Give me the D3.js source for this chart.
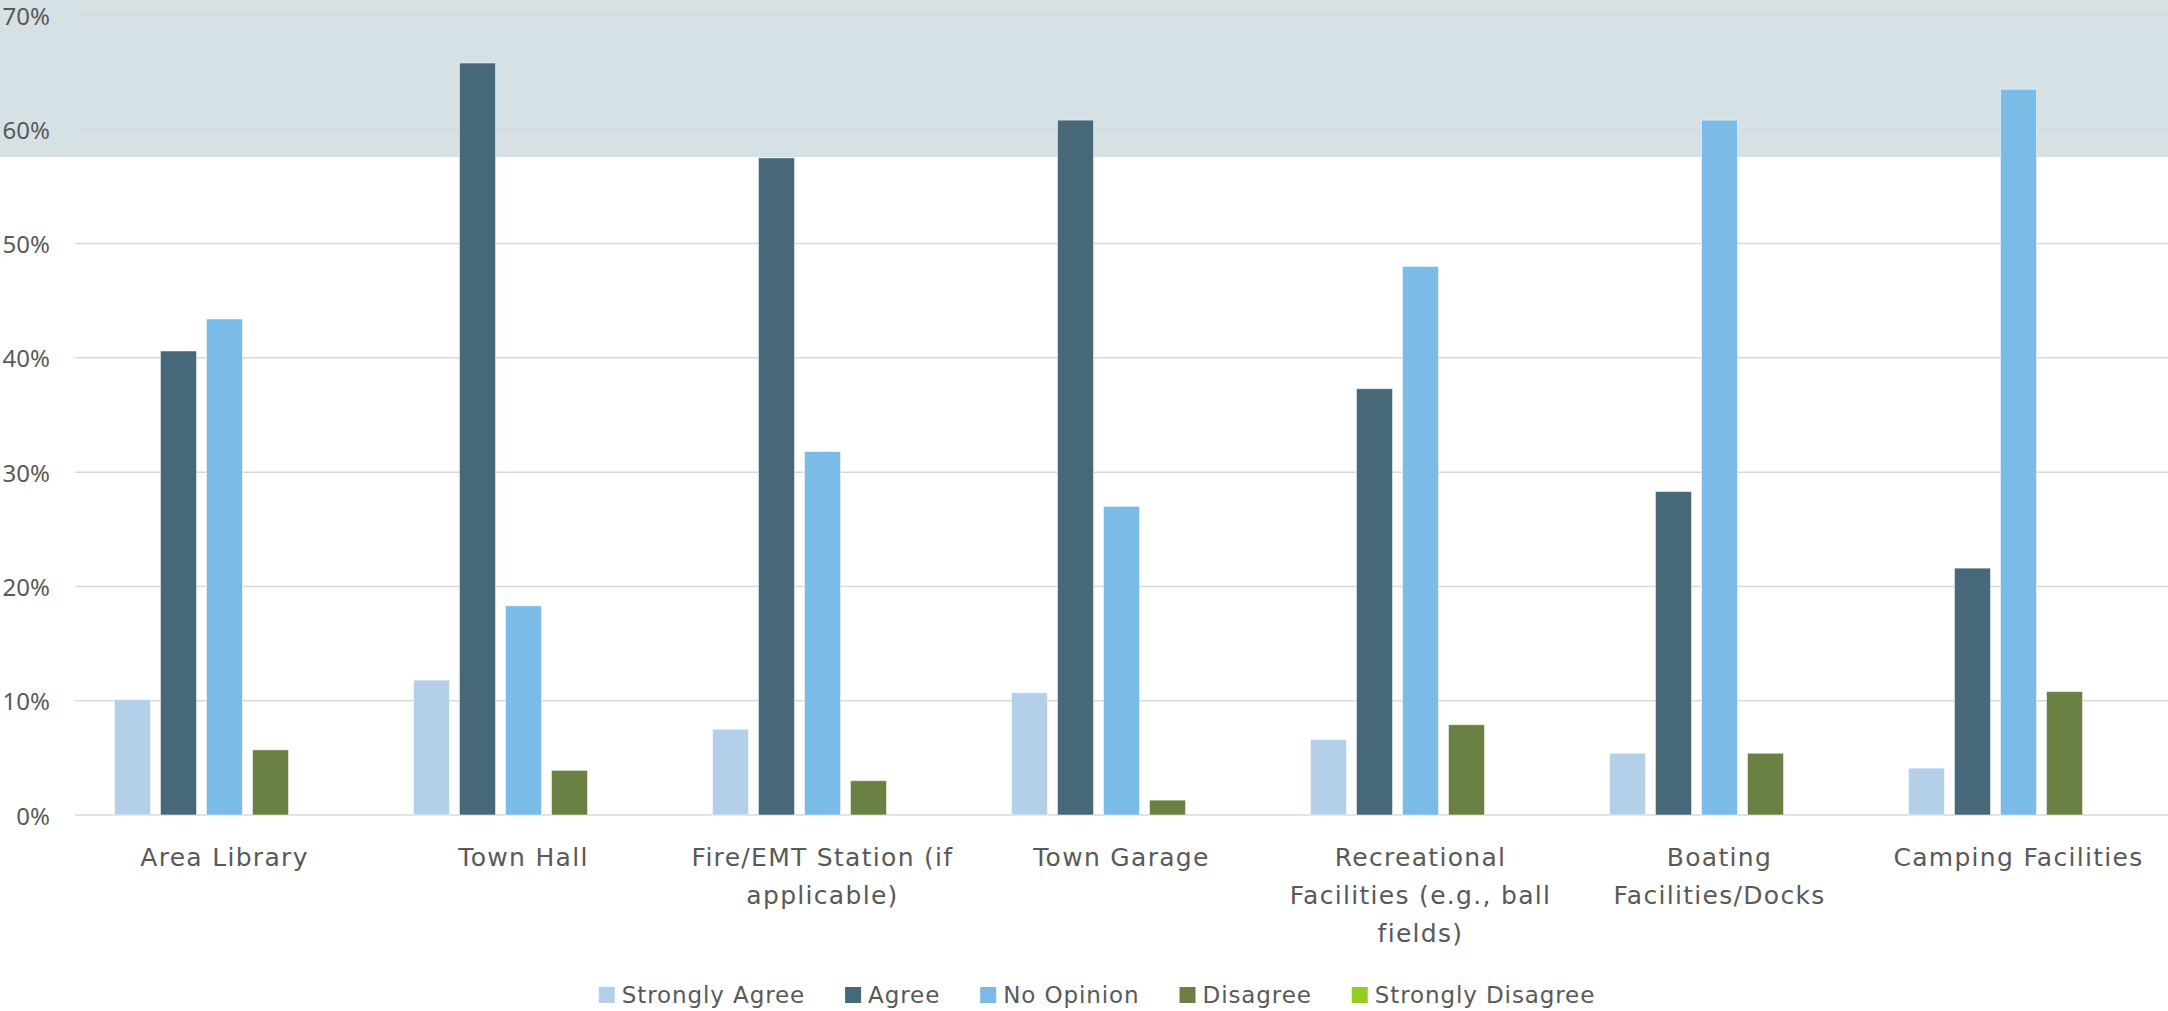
<!DOCTYPE html>
<html>
<head>
<meta charset="utf-8">
<script src="https://cdn.jsdelivr.net/npm/d3@7"></script>
<style>
  html, body { margin: 0; padding: 0; background: #ffffff; }
  svg { display: block; }
  text { font-family: "DejaVu Sans", sans-serif; fill: #595959; }
</style>
</head>
<body>
<svg id="chart" width="2168" height="1011"></svg>
<script>
// ---- data ----
const categories = ["Area Library", "Town Hall", "Fire/EMT Station (if applicable)", "Town Garage",
  "Recreational Facilities (e.g., ball fields)", "Boating Facilities/Docks", "Camping Facilities"];
const categoryLines = [
  ["Area Library"],
  ["Town Hall"],
  ["Fire/EMT Station (if", "applicable)"],
  ["Town Garage"],
  ["Recreational", "Facilities (e.g., ball", "fields)"],
  ["Boating", "Facilities/Docks"],
  ["Camping Facilities"]
];
const seriesNames = ["Strongly Agree", "Agree", "No Opinion", "Disagree", "Strongly Disagree"];
const stronglyAgree    = [10.1, 11.8, 7.5, 10.7, 6.6, 5.4, 4.1];
const agree            = [40.6, 65.8, 57.5, 60.8, 37.3, 28.3, 21.6];
const noOpinion        = [43.4, 18.3, 31.8, 27.0, 48.0, 60.8, 63.5];
const disagree         = [5.7, 3.9, 3.0, 1.3, 7.9, 5.4, 10.8];
const stronglyDisagree = [0, 0, 0, 0, 0, 0, 0];
const seriesValues = [stronglyAgree, agree, noOpinion, disagree, stronglyDisagree];
const yTicks = [0, 10, 20, 30, 40, 50, 60, 70];
const seriesColors = ["#b4d0e8", "#466878", "#7bbbe8", "#6b8043", "#99cc22"];

// ---- layout ----
const W = 2168, H = 1011;
const plotLeft = 75, plotRight = 2168, plotTop = 15, plotBottom = 815;
const svg = d3.select("#chart");

// shaded band at top
svg.append("rect").attr("x", 0).attr("y", 0).attr("width", W).attr("height", 157)
  .attr("fill", "#d6e1e6");

const y = d3.scaleLinear().domain([0, 70]).range([plotBottom, plotTop]);
const x0 = d3.scaleBand().domain(categories).range([plotLeft, plotRight]).paddingInner(0).paddingOuter(0);
const x1 = d3.scaleBand().domain(seriesNames).range([0, x0.bandwidth()])
  .paddingInner(10 / 46).paddingOuter(0.858);

// gridlines
svg.append("g").selectAll("line").data(yTicks).join("line")
  .attr("x1", plotLeft).attr("x2", plotRight)
  .attr("y1", d => y(d)).attr("y2", d => y(d))
  .attr("stroke", "#d9d9d9").attr("stroke-width", 1.5);

// y axis labels
const yAxis = d3.axisLeft(y).tickValues(yTicks).tickFormat(d => d + "%").tickSize(0).tickPadding(0);
const yg = svg.append("g").attr("transform", `translate(50,0)`).call(yAxis);
yg.select(".domain").remove();
yg.selectAll("text")
  .attr("dy", null).attr("y", 9)
  .style("font-size", "24px").style("fill", "#595959")
  .style("font-family", '"Noto Sans", sans-serif');

// bars
const groups = svg.append("g").selectAll("g").data(categories).join("g")
  .attr("transform", d => `translate(${x0(d)},0)`);
groups.selectAll("rect")
  .data((c, ci) => seriesNames.map((s, si) => ({ s, si, v: seriesValues[si][ci] })))
  .join("rect")
  .attr("x", d => x1(d.s))
  .attr("width", x1.bandwidth())
  .attr("y", d => y(d.v))
  .attr("height", d => y(0) - y(d.v))
  .attr("fill", d => seriesColors[d.si])
  .attr("stroke", "#ffffff").attr("stroke-opacity", 0.5).attr("stroke-width", 1)
  .style("display", d => d.v > 0 ? null : "none");

// x axis labels
const xl = svg.append("g").selectAll("text").data(categories).join("text")
  .attr("x", d => x0(d) + x0.bandwidth() / 2)
  .attr("y", 866)
  .attr("text-anchor", "middle")
  .style("font-size", "25px")
  .style("letter-spacing", "1.3px");
xl.selectAll("tspan").data((d, i) => categoryLines[i]).join("tspan")
  .attr("x", function () { return d3.select(this.parentNode).attr("x"); })
  .attr("dy", (d, i) => i === 0 ? 0 : 38)
  .text(d => d);

// legend
const legend = svg.append("g");
const items = legend.selectAll("g").data(seriesNames).join("g");
items.append("rect").attr("width", 16).attr("height", 16).attr("y", 987)
  .attr("fill", (d, i) => seriesColors[i]);
items.append("text").attr("x", 23).attr("y", 1003)
  .style("font-size", "23px").style("letter-spacing", "0.9px").text(d => d);
const widths = [];
items.each(function () {
  const w = 23 + this.querySelector("text").getComputedTextLength();
  widths.push(w);
});
const total = d3.sum(widths) + 40 * (widths.length - 1);
let start = 1097 - total / 2;
items.attr("transform", (d, i) => {
  const t = `translate(${start},0)`;
  start += widths[i] + 40;
  return t;
});
</script>
</body>
</html>
